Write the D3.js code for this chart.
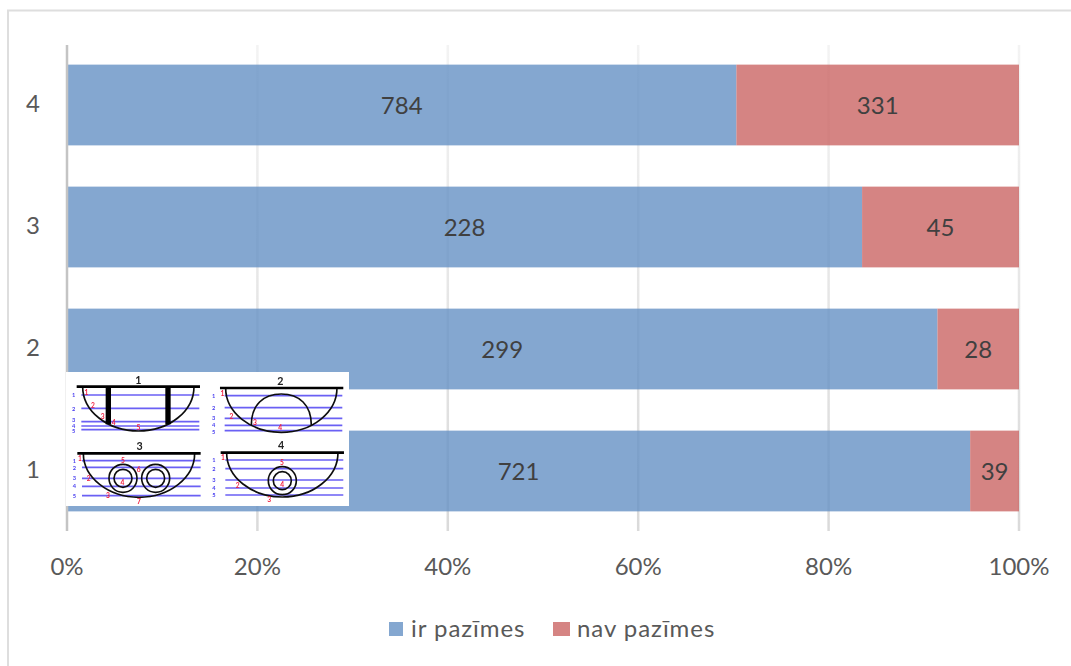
<!DOCTYPE html>
<html>
<head>
<meta charset="utf-8">
<script src="https://cdn.jsdelivr.net/npm/d3@7"></script>
<style>
html,body{margin:0;padding:0;background:#fff}
svg{display:block}
text{font-family:Lato,"Open Sans",sans-serif}
</style>
</head>
<body>
<svg id="chart" width="1071" height="666"></svg>
<script>
// Chart values
const categories = ["4", "3", "2", "1"];
const seriesNames = ["ir pazīmes", "nav pazīmes"];
const irPazimes = [784, 228, 299, 721];
const navPazimes = [331, 45, 28, 39];
const xTicks = [0, 0.2, 0.4, 0.6, 0.8, 1];
const seriesColors = ["#6591c4", "#cb6564"];

const svg = d3.select("#chart");
const defs = svg.append("defs");

// Gridlines get darker towards the axis
const gridFade = defs.append("linearGradient").attr("id", "gridFade")
  .attr("gradientUnits", "userSpaceOnUse").attr("x1", 0).attr("x2", 0).attr("y1", 45).attr("y2", 531);
gridFade.append("stop").attr("offset", 0).attr("stop-color", "#f3f3f3");
gridFade.append("stop").attr("offset", 1).attr("stop-color", "#dadada");

// Outer frame: only top and left edges show inside the page
svg.append("path").attr("d", "M8,666V10.5H1071")
  .attr("fill", "none").attr("stroke", "#dedede").attr("stroke-width", 2);

const x = d3.scaleLinear().domain([0, 1]).range([67, 1019]);
const y = d3.scaleBand().domain(categories).range([44, 532]).paddingInner(0.338).paddingOuter(0.169);

// Gridlines
svg.append("g").selectAll("line").data(xTicks.slice(1)).join("line")
  .attr("x1", d => x(d)).attr("x2", d => x(d))
  .attr("y1", 45).attr("y2", 531)
  .attr("stroke", "url(#gridFade)").attr("stroke-width", 2.5);

// Stacked bars, normalised to share of each row's total
const rows = categories.map((c, i) => {
  const total = irPazimes[i] + navPazimes[i];
  return { c, parts: [
    { v: irPazimes[i], x0: 0, x1: irPazimes[i] / total, s: 0 },
    { v: navPazimes[i], x0: irPazimes[i] / total, x1: 1, s: 1 }
  ]};
});
const row = svg.append("g").selectAll("g").data(rows).join("g");
row.selectAll("rect").data(d => d.parts.map(p => ({...p, c: d.c}))).join("rect")
  .attr("x", d => x(d.x0)).attr("width", d => x(d.x1) - x(d.x0))
  .attr("y", d => y(d.c)).attr("height", y.bandwidth())
  .attr("fill", d => seriesColors[d.s]).attr("fill-opacity", 0.8);
row.selectAll("text").data(d => d.parts.map(p => ({...p, c: d.c}))).join("text")
  .attr("x", d => x((d.x0 + d.x1) / 2)).attr("y", d => y(d.c) + y.bandwidth() / 2 + 2.5)
  .attr("text-anchor", "middle").attr("dominant-baseline", "middle")
  .attr("font-size", 24).attr("fill", "#404040").text(d => d.v);

// Vertical category axis line
svg.append("line").attr("x1", 67).attr("x2", 67).attr("y1", 45).attr("y2", 531)
  .attr("stroke", "#c4c4c4").attr("stroke-width", 2.5);

// Category labels
svg.append("g").selectAll("text").data(categories).join("text")
  .attr("x", 33).attr("y", d => y(d) + y.bandwidth() / 2 + 1)
  .attr("text-anchor", "middle").attr("dominant-baseline", "middle")
  .attr("font-size", 24).attr("fill", "#595959").text(d => d);

// Percent axis labels
svg.append("g").selectAll("text").data(xTicks).join("text")
  .attr("x", d => x(d)).attr("y", 569)
  .attr("text-anchor", "middle").attr("dominant-baseline", "middle")
  .attr("font-size", 24).attr("fill", "#595959").text(d3.format(".0%"));

// Legend
const legendX = [389, 553], legendTextX = [411, 577];
const legend = svg.append("g").selectAll("g").data(seriesNames).join("g");
legend.append("rect").attr("x", (d, i) => legendX[i]).attr("y", 622).attr("width", (d, i) => i ? 17 : 14).attr("height", 14)
  .attr("fill", (d, i) => seriesColors[i]).attr("fill-opacity", 0.8);
legend.append("text").attr("x", (d, i) => legendTextX[i]).attr("y", 631)
  .attr("dominant-baseline", "middle").attr("font-size", 24).attr("letter-spacing", 0.95).attr("fill", "#595959")
  .text(d => d);

// Inset with the four cross-section sketches; geometry is in a 3x working grid
defs.append("filter").attr("id", "soft").append("feGaussianBlur").attr("stdDeviation", 1.6);
svg.append("rect").attr("x", 66).attr("y", 372).attr("width", 283).attr("height", 134).attr("fill", "#fff");
const inset = svg.append("g").attr("transform", "translate(60,365) scale(0.3333)").attr("filter", "url(#soft)");

const panels = [
  { n: "1", tx: 235, ty: 57, bar: [50, 420, 65], bowl: [68, 402, 65, 198],
    levels: [90, 130, 170, 183, 194], numY: [90, 131, 165, 182, 199], lx: [50, 418], nx: 41,
    levelNames: [[79, 82, "1"], [99, 123, "2"], [128, 155, "3"], [161, 173, "4"], [235, 187, "5"]] },
  { n: "2", tx: 661, ty: 60, bar: [480, 850, 69], bowl: [497, 831, 69, 202],
    levels: [92, 128, 160, 181, 197], numY: [92, 128, 158, 180, 200], lx: [480, 847], nx: 461,
    levelNames: [[487, 85, "1"], [514, 154, "2"], [585, 173, "3"], [661, 189, "4"]] },
  { n: "3", tx: 239, ty: 255, bar: [52, 422, 265], bowl: [70, 404, 265, 397],
    levels: [287, 307, 340, 364, 392], numY: [287, 308, 340, 364, 392], lx: [52, 422], nx: 43,
    levelNames: [[60, 280, "1"], [86, 342, "2"], [144, 391, "3"], [187, 354, "4"], [189, 287, "5"], [236, 314, "6"], [237, 409, "7"]] },
  { n: "4", tx: 663, ty: 253, bar: [482, 852, 263], bowl: [500, 834, 263, 396],
    levels: [285, 311, 345, 369, 390], numY: [285, 313, 345, 370, 390], lx: [482, 850], nx: 462,
    levelNames: [[489, 277, "1"], [533, 362, "2"], [628, 404, "3"], [667, 360, "4"], [666, 293, "5"]] }
];

panels.forEach((p, idx) => {
  const g = inset.append("g");
  g.selectAll("line.level").data(p.levels).join("line").attr("class", "level")
    .attr("x1", p.lx[0] + 14).attr("x2", p.lx[1]).attr("y1", d => d).attr("y2", d => d)
    .attr("stroke", "#6a60f4").attr("stroke-width", 5);
  g.selectAll("text.num").data(p.numY).join("text").attr("class", "num")
    .attr("x", p.nx).attr("y", d => d + 6).attr("text-anchor", "middle")
    .attr("font-size", 17).attr("font-weight", 700).attr("fill", "#4a40f0")
    .text((d, i) => i + 1);
  const [bx0, bx1, by, bb] = p.bowl;
  g.append("path")
    .attr("d", `M${bx0},${by}A${(bx1 - bx0) / 2},${bb - by} 0 0 0 ${bx1},${by}`)
    .attr("fill", "none").attr("stroke", "#111").attr("stroke-width", 5);
  g.append("line").attr("x1", p.bar[0]).attr("x2", p.bar[1]).attr("y1", p.bar[2]).attr("y2", p.bar[2])
    .attr("stroke", "#000").attr("stroke-width", 8);
  g.append("text").attr("x", p.tx).attr("y", p.ty).attr("text-anchor", "middle")
    .attr("font-size", 32).attr("font-weight", 700).attr("fill", "#222").text(p.n);

  // Interior structure of each section type
  const ring = (cx, cy, r) => g.append("circle").attr("cx", cx).attr("cy", cy).attr("r", r)
    .attr("fill", "none").attr("stroke", "#111").attr("stroke-width", 5);
  if (idx === 0) {
    [[145, 178], [324, 178]].forEach(([px, end]) => g.append("line")
      .attr("x1", px).attr("x2", px).attr("y1", 65).attr("y2", end)
      .attr("stroke", "#000").attr("stroke-width", 16));
  } else if (idx === 1) {
    g.append("path").attr("d", "M574,180C574,120 610,87 664,87C718,87 754,120 754,180")
      .attr("fill", "none").attr("stroke", "#111").attr("stroke-width", 5);
  } else if (idx === 2) {
    [189, 287].forEach(cx => { ring(cx, 340, 42); ring(cx, 340, 27); });
  } else {
    ring(667, 347, 42); ring(667, 347, 27);
  }

  g.selectAll("text.mark").data(p.levelNames).join("text").attr("class", "mark")
    .attr("x", d => d[0]).attr("y", d => d[1] + 7).attr("text-anchor", "middle")
    .attr("font-size", 20).attr("font-weight", 700).attr("fill", "#f02040")
    .text(d => d[2]);
});
</script>
</body>
</html>
